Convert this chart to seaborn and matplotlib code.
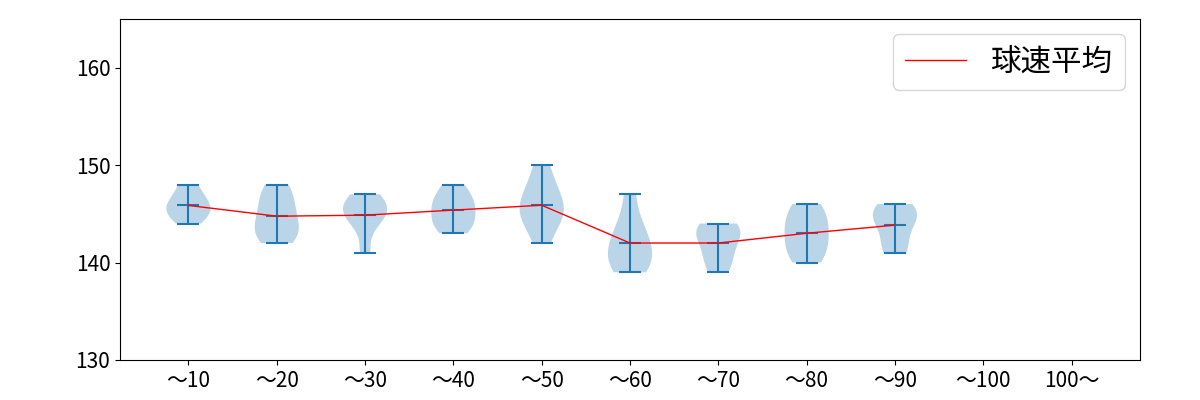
import numpy as np
import matplotlib
matplotlib.use("Agg")
import matplotlib.pyplot as plt
import seaborn as sns

plt.rcParams['font.family'] = ['Noto Sans CJK JP', 'DejaVu Sans']

categories = ["〜10", "〜20", "〜30", "〜40", "〜50", "〜60", "〜70", "〜80", "〜90", "〜100", "100〜"]
speeds_10 = [144, 145, 145, 146, 146, 147, 148]
speeds_20 = [142, 143, 143, 144, 145, 146, 147, 148]
speeds_30 = [141, 144, 145, 145, 146, 146, 147]
speeds_40 = [143, 144, 144, 145, 146, 146, 147, 148]
speeds_50 = [142, 144, 145, 145, 146, 147, 148, 150]
speeds_60 = [139, 140, 140, 141, 142, 143, 144, 147]
speeds_70 = [139, 140, 141, 142, 143, 143, 144, 144]
speeds_80 = [140, 141, 142, 143, 144, 145, 146]
speeds_90 = [141, 142, 144, 145, 145, 146]
series = [speeds_10, speeds_20, speeds_30, speeds_40, speeds_50,
          speeds_60, speeds_70, speeds_80, speeds_90]

fig, ax = plt.subplots(figsize=(12, 4), dpi=100)
positions = list(range(1, len(series) + 1))
ax.violinplot(series, positions=positions, showmeans=True, showextrema=True)

means = [float(np.mean(s)) for s in series]
sns.lineplot(x=positions, y=means, color="red", linewidth=1, label="球速平均", ax=ax)

ax.set_xticks(range(1, len(categories) + 1))
ax.set_xticklabels(categories, fontsize=15)
ax.tick_params(axis='y', labelsize=15)
ax.set_xlim(0.225, 11.775)
ax.set_ylim(130, 165)
ax.set_yticks([130, 140, 150, 160])
ax.legend(loc="upper right", fontsize=22)
fig.subplots_adjust(left=0.1, right=0.95, top=0.953, bottom=0.1)
fig.savefig("out.png", dpi=100)
